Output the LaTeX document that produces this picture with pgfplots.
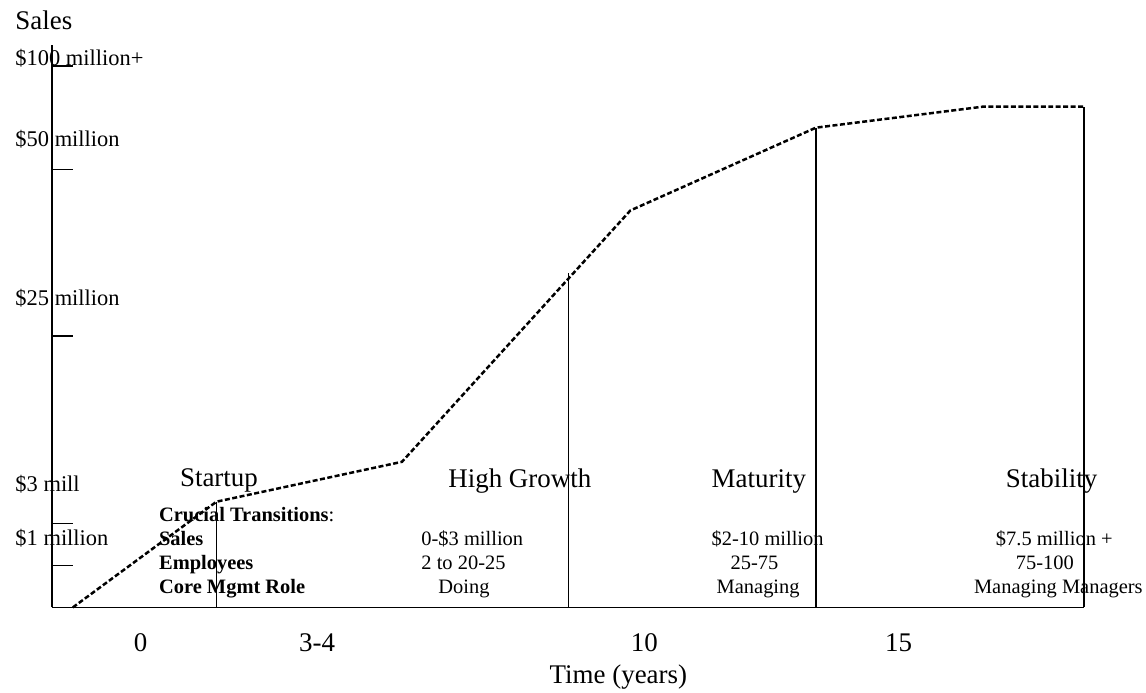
\documentclass[border=0pt]{standalone}
\usepackage{fontspec}
\setmainfont{Liberation Serif}
\usepackage{pgfplots}
\pgfplotsset{compat=1.18}
\tikzset{
  big/.style={font=\fontsize{27}{30}\selectfont},
  mid/.style={font=\fontsize{22.5}{25}\selectfont},
  sml/.style={font=\fontsize{20.5}{23}\selectfont},
}
\begin{document}
\begin{tikzpicture}
\begin{axis}[
  scale only axis, width=1035pt, height=564pt,
  xmin=52, xmax=1087, ymin=0, ymax=564,
  axis lines=left, axis line style={-, line width=1.6pt, black},
  xtick=\empty,
  ytick={42,84,272,439,543}, yticklabels={},
  tick style={line width=1.5pt, black},
  major tick length=21pt, tick align=inside,
  clip=false,
]
\path (axis cs:0,609) rectangle (axis cs:1146,-84);
% sales curve
\addplot[line width=2.5pt, dash pattern=on 5pt off 2.5pt] coordinates {
  (73,0) (217,106) (403,146) (632,398) (818,481) (985,502) (1087,502)};
% stage dividers
\addplot[line width=1.5pt] coordinates {(217,0) (217,106)};
\addplot[line width=1.5pt] coordinates {(570,0) (570,335)};
\addplot[line width=1.5pt] coordinates {(818,0) (818,481)};
\addplot[line width=1.5pt] coordinates {(1087,0) (1087,502)};
% y labels
\node[big, anchor=base west] at (axis cs:12,579.5) {Sales};
\node[mid, anchor=base west] at (axis cs:12,543) {\$100 million+};
\node[mid, anchor=base west] at (axis cs:12,462) {\$50 million};
\node[mid, anchor=base west] at (axis cs:12,303) {\$25 million};
\node[mid, anchor=base west] at (axis cs:12,116) {\$3 mill};
\node[mid, anchor=base west] at (axis cs:12,62) {\$1 million};
% stage names
\node[big, anchor=base west] at (axis cs:177,121) {Startup};
\node[big, anchor=base west] at (axis cs:446,120) {High Growth};
\node[big, anchor=base west] at (axis cs:710,120) {Maturity};
\node[big, anchor=base west] at (axis cs:1005,120) {Stability};
% crucial transitions
\node[sml, anchor=base west] at (axis cs:156,86) {\textbf{Crucial Transitions}:};
\node[sml, anchor=base west] at (axis cs:156,62) {\textbf{Sales}};
\node[sml, anchor=base west] at (axis cs:156,38) {\textbf{Employees}};
\node[sml, anchor=base west] at (axis cs:156,14) {\textbf{Core Mgmt Role}};
\node[sml, anchor=base west] at (axis cs:419,62) {0-\$3 million};
\node[sml, anchor=base west] at (axis cs:419,38) {2 to 20-25};
\node[sml, anchor=base west] at (axis cs:436,14) {Doing};
\node[sml, anchor=base west] at (axis cs:710,62) {\$2-10 million};
\node[sml, anchor=base west] at (axis cs:729,38) {25-75};
\node[sml, anchor=base west] at (axis cs:715,14) {Managing};
\node[sml, anchor=base west] at (axis cs:995,62) {\$7.5 million +};
\node[sml, anchor=base west] at (axis cs:1015,38) {75-100};
\node[sml, anchor=base west] at (axis cs:973,14) {Managing Managers};
% x labels
\node[big, anchor=base] at (axis cs:141,-44) {0};
\node[big, anchor=base] at (axis cs:318,-44) {3-4};
\node[big, anchor=base] at (axis cs:646,-44) {10};
\node[big, anchor=base] at (axis cs:901,-44) {15};
\node[big, anchor=base] at (axis cs:620,-76) {Time (years)};
\end{axis}
\end{tikzpicture}
\end{document}
